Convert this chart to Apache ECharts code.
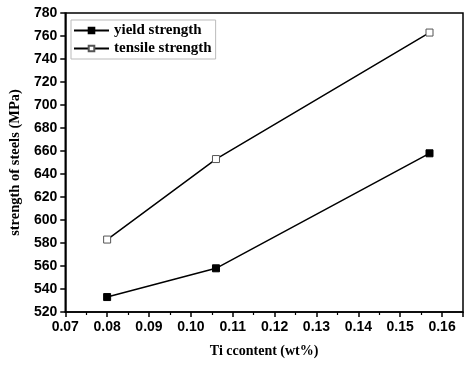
<!DOCTYPE html>
<html>
<head>
<meta charset="utf-8">
<script src="https://cdn.jsdelivr.net/npm/echarts@6/dist/echarts.min.js"></script>
<style>html,body{margin:0;padding:0;background:#fff;}#c{width:474px;height:368px;}</style>
</head>
<body>
<div id="c"></div>
<script>
var tiContent = [0.08, 0.106, 0.157];
var yieldStrength = [533, 558, 658];
var tensileStrength = [583, 653, 763];
var seriesNames = ['yield strength', 'tensile strength'];
var xTitle = 'Ti ccontent (wt%)';
var yTitle = 'strength of steels (MPa)';

function pairs(xs, ys) { return xs.map(function (x, i) { return [x, ys[i]]; }); }

var chart = echarts.init(document.getElementById('c'), null, { renderer: 'canvas' });
var tickFont = { fontFamily: '"Liberation Sans", Arial, sans-serif', fontWeight: 'bold', fontSize: 14, color: '#000' };
var serif = '"Liberation Serif", "Times New Roman", serif';
var titleFont = { fontFamily: serif, fontWeight: 'bold', fontSize: 14, color: '#000' };
var yTitleFont = { fontFamily: serif, fontWeight: 'bold', fontSize: 14.5, color: '#000' };
var legendFont = { fontFamily: serif, fontWeight: 'bold', fontSize: 15, color: '#000' };
chart.setOption({
  animation: false,
  backgroundColor: '#fff',
  grid: { left: 61, right: 11, top: 13, bottom: 56, show: true, borderColor: '#000', borderWidth: 1.5, backgroundColor: 'transparent' },
  legend: {
    left: 71, top: 20, orient: 'vertical', itemWidth: 35, itemHeight: 7, itemGap: 3,
    borderColor: '#bbb', borderWidth: 1, padding: [3, 4, 3, 2],
    textStyle: legendFont,
    data: seriesNames
  },
  xAxis: {
    type: 'value', min: 0.07, max: 0.165, interval: 0.01,
    name: xTitle, nameLocation: 'middle', nameGap: 32, nameTextStyle: titleFont,
    axisLine: { lineStyle: { color: '#000', width: 1.5 } },
    axisTick: { length: 5, lineStyle: { color: '#000', width: 1.5 } },
    minorTick: { show: true, splitNumber: 2, length: 3, lineStyle: { color: '#000', width: 1.2 } },
    splitLine: { show: false },
    axisLabel: Object.assign({ margin: 8, showMaxLabel: false, formatter: function (v) {
      var r = Math.round(v * 100);
      if (Math.abs(v * 100 - r) > 1e-6 || r > 16) return '';
      return (r / 100).toFixed(2);
    } }, tickFont)
  },
  yAxis: {
    type: 'value', min: 520, max: 780, interval: 20,
    name: yTitle, nameLocation: 'middle', nameGap: 41, nameTextStyle: yTitleFont,
    axisLine: { lineStyle: { color: '#000', width: 1.5 } },
    axisTick: { length: 5, lineStyle: { color: '#000', width: 1.5 } },
    splitLine: { show: false },
    axisLabel: Object.assign({ margin: 8 }, tickFont)
  },
  series: [
    {
      name: seriesNames[0], type: 'line', data: pairs(tiContent, yieldStrength),
      symbol: 'rect', symbolSize: 7,
      lineStyle: { color: '#000', width: 1.5 },
      itemStyle: { color: '#000', borderColor: '#000', borderWidth: 1 }
    },
    {
      name: seriesNames[1], type: 'line', data: pairs(tiContent, tensileStrength),
      symbol: 'rect', symbolSize: 7,
      lineStyle: { color: '#000', width: 1.5 },
      itemStyle: { color: '#fff', borderColor: '#555', borderWidth: 1 }
    }
  ]
});
</script>
</body>
</html>
